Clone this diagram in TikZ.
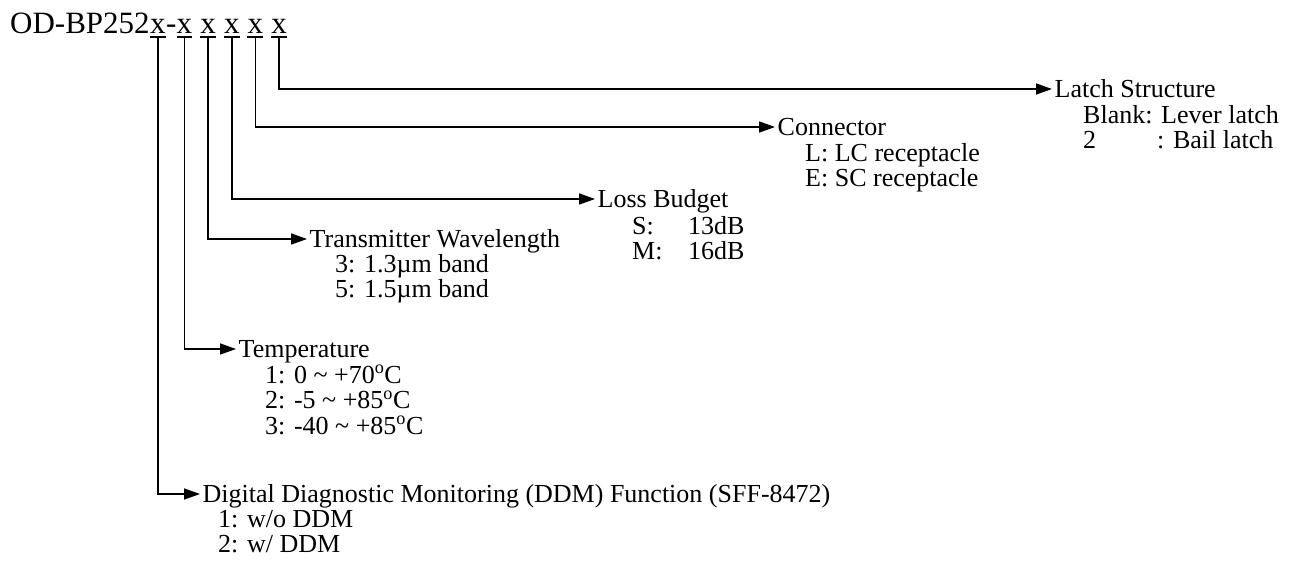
\documentclass[tikz,border=0pt]{standalone}
\usepackage{fontspec}
\setmainfont{Liberation Serif}
\usepackage{tikz}
\usetikzlibrary{positioning,arrows.meta}
\tikzstyle{orderCode} = [x = 1pt, y = -1pt]
\tikzstyle{codeText} = [font=\fontsize{31}{31}\selectfont, inner sep = 0pt]
\tikzstyle{codeDigit} = [codeText, text depth = 4pt]
\tikzstyle{underLine} = [line width = 1.5pt]
\tikzstyle{leadLine} = [line width = 1.5pt, -{Triangle[length = 16pt, width = 11pt]}]
\tikzstyle{headText} = [font=\fontsize{26}{25.5}\selectfont, anchor = base west, inner xsep = 2.5pt, inner ysep = 0pt, text height = 16pt, text depth = 0pt]
\tikzstyle{itemText} = [font=\fontsize{26}{25.5}\selectfont, anchor = base west, inner sep = 0pt]
\newcommand{\codeSpace}{7.75pt}
\newcommand{\leadTo}[2]{\draw [leadLine] (#1.south) |- (#2.west);}
\newcommand{\optionList}[3]{\node [itemText] (#1) at (#2) {\begin{tabular}[t]{@{}l@{}}#3\end{tabular}};}
\newcommand{\degC}{\textsuperscript{o}C}

\begin{document}
\begin{tikzpicture}[orderCode]
  \useasboundingbox (0,0) rectangle (1300,560);

  % part number
  \node [codeText, anchor = base west] (code) at (10,33) {OD-BP252};
  \node [codeDigit, base right = 0pt of code] (x1) {x};
  \node [codeText, base right = 0pt of x1] (dash) {-};
  \node [codeDigit, base right = 0pt of dash] (x2) {x};
  \node [codeDigit, base right = \codeSpace of x2] (x3) {x};
  \node [codeDigit, base right = \codeSpace of x3] (x4) {x};
  \node [codeDigit, base right = \codeSpace of x4] (x5) {x};
  \node [codeDigit, base right = \codeSpace of x5] (x6) {x};
  \foreach \digit in {1,...,6} {
    \draw [underLine] (x\digit.south west) -- (x\digit.south east);
  }

  % fields
  \node [headText] (latch) at (1052,97) {Latch Structure};
  \optionList{latchItems}{1083,123}{Blank: Lever latch\\\makebox[74pt][l]{2}: Bail latch}

  \node [headText] (conn) at (775,135) {Connector};
  \optionList{connItems}{805,161}{L: LC receptacle\\E: SC receptacle}

  \node [headText] (loss) at (595,207) {Loss Budget};
  \optionList{lossItems}{632,234}{\makebox[56pt][l]{S:}13dB\\\makebox[56pt][l]{M:}16dB}

  \node [headText] (wave) at (307,247) {Transmitter Wavelength};
  \optionList{waveItems}{335,272}{3: 1.3µm band\\5: 1.5µm band}

  \node [headText] (temp) at (236,357) {Temperature};
  \optionList{tempItems}{265,383}{1: 0 \textasciitilde\ +70\degC\\2: -5 \textasciitilde\ +85\degC\\3: -40 \textasciitilde\ +85\degC}

  \node [headText] (ddm) at (200,502) {Digital Diagnostic Monitoring (DDM) Function (SFF-8472)};
  \optionList{ddmItems}{218,527}{1: w/o DDM\\2: w/ DDM}

  % leads
  \leadTo{x1}{ddm}
  \leadTo{x2}{temp}
  \leadTo{x3}{wave}
  \leadTo{x4}{loss}
  \leadTo{x5}{conn}
  \leadTo{x6}{latch}
\end{tikzpicture}
\end{document}
